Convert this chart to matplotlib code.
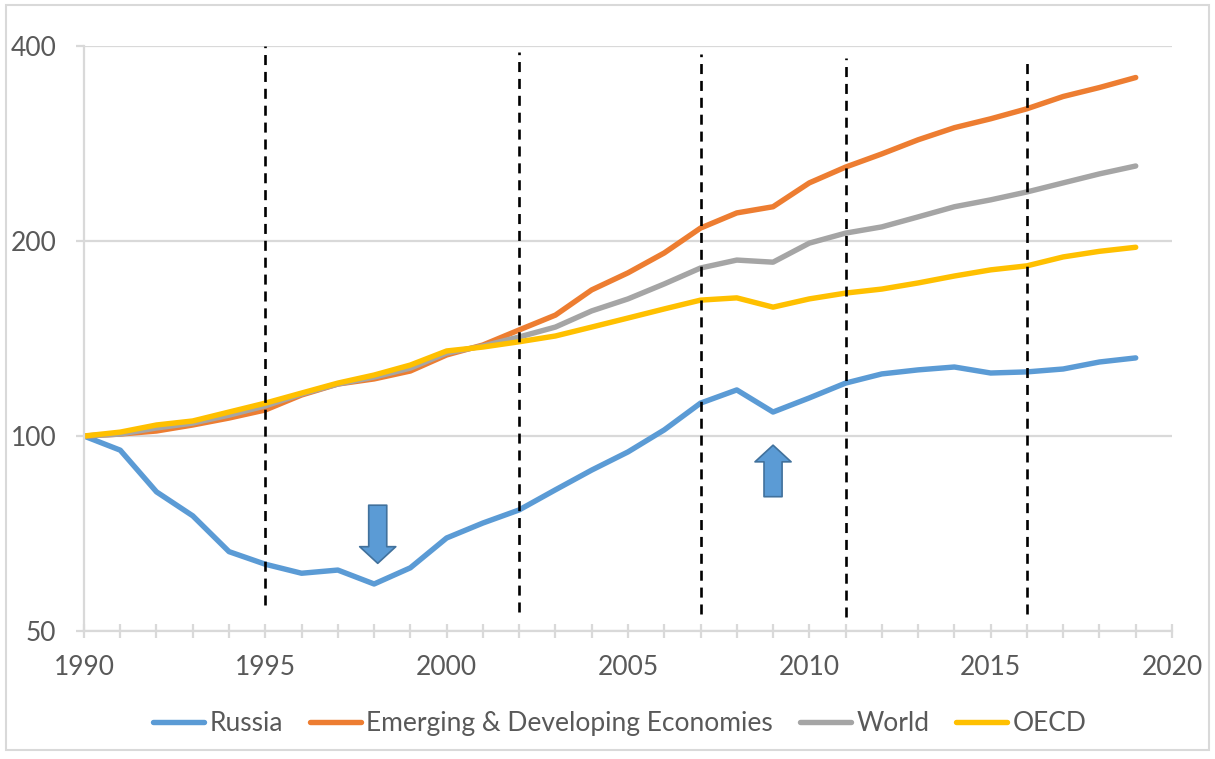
import numpy as np
import matplotlib
matplotlib.use("Agg")
import matplotlib.pyplot as plt
from matplotlib.ticker import FixedLocator, MultipleLocator, NullFormatter, NullLocator
from matplotlib.patches import Rectangle

# Index, 1990 = 100 (log scale)
years = list(range(1990, 2020))

russia = [100, 95.1, 82.0, 75.3, 66.3, 63.4, 61.4, 62.1, 59.1, 62.6,
          69.6, 73.4, 76.9, 82.6, 88.6, 94.5, 102.2, 112.4, 117.8, 108.9,
          114.5, 120.7, 124.7, 126.5, 127.8, 125.1, 125.6, 126.9, 130.1, 132.0]
emerging = [100, 100.7, 101.8, 104.0, 106.6, 109.7, 115.7, 120.3, 122.5, 126.0,
            133.4, 138.2, 145.8, 153.7, 168.1, 178.6, 191.7, 209.4, 221.0, 225.9,
            245.9, 260.1, 272.6, 286.6, 299.2, 308.8, 320.0, 334.3, 345.1, 357.6]
world = [100, 100.7, 102.9, 104.7, 107.7, 111.3, 116.1, 120.3, 123.3, 127.3,
         134.3, 137.7, 142.2, 147.3, 156.0, 162.8, 171.7, 181.7, 186.9, 185.5,
         198.5, 205.7, 210.3, 217.9, 225.9, 231.5, 238.1, 245.9, 253.9, 261.1]
oecd = [100, 101.4, 104.0, 105.5, 108.9, 112.4, 116.5, 120.7, 124.2, 128.7,
        135.3, 137.2, 139.8, 142.7, 147.3, 152.1, 157.1, 162.1, 163.4, 158.1,
        162.8, 166.2, 168.6, 172.3, 176.6, 180.5, 183.1, 189.0, 192.8, 195.6]

event_years = [1995, 2002, 2007, 2011, 2016]
event_lo = [0.044, 0.032, 0.029, 0.024, 0.029]
event_hi = [1.0, 0.99, 0.986, 0.979, 0.981]

# arrows: (x, tail, tip)
down_arrow = (1998.1, 78.2, 63.6)
up_arrow = (2009.0, 80.6, 96.8)

yticks = [50, 100, 200, 400]

plt.rcParams['font.family'] = ['Lato', 'DejaVu Sans']
grid_c = '#D9D9D9'
text_c = '#595959'

fig = plt.figure(figsize=(12.15, 7.59), dpi=100)
ax = fig.add_axes([0.0691, 0.1686, 0.8955, 0.7708])

lw = 3.9
ax.plot(years, russia, color='#5B9BD5', lw=lw, label='Russia', solid_capstyle='round')
ax.plot(years, emerging, color='#ED7D31', lw=lw, label='Emerging & Developing Economies', solid_capstyle='round')
ax.plot(years, world, color='#A5A5A5', lw=lw, label='World', solid_capstyle='round')
ax.plot(years, oecd, color='#FFC000', lw=lw, label='OECD', solid_capstyle='round')

for yr, lo, hi in zip(event_years, event_lo, event_hi):
    ax.axvline(yr, ymin=lo, ymax=hi, color='black', lw=1.9, ls=(0, (3.8, 2.6)), zorder=5)

for x, tail, tip in [down_arrow, up_arrow]:
    ax.annotate('', xy=(x, tip), xytext=(x, tail),
                arrowprops=dict(arrowstyle='simple,head_length=0.6,head_width=1.3,tail_width=0.65',
                                fc='#5B9BD5', ec='#41719C', lw=1.2,
                                mutation_scale=20, shrinkA=0, shrinkB=0),
                zorder=6)

ax.set_yscale('log')
ax.set_ylim(50, 400)
ax.set_xlim(1990, 2020)
ax.yaxis.set_major_locator(FixedLocator(yticks))
ax.yaxis.set_major_formatter(plt.FixedFormatter([str(v) for v in yticks]))
ax.yaxis.set_minor_locator(NullLocator())
ax.yaxis.set_minor_formatter(NullFormatter())
ax.xaxis.set_major_locator(MultipleLocator(5))
ax.xaxis.set_minor_locator(MultipleLocator(1))

ax.grid(axis='y', color=grid_c, lw=1.6)
ax.set_axisbelow(True)
for s in ['top', 'right']:
    ax.spines[s].set_visible(False)
for s in ['left', 'bottom']:
    ax.spines[s].set_color(grid_c)
    ax.spines[s].set_linewidth(1.6)

ax.tick_params(axis='y', which='major', length=6, width=1.6, color=grid_c,
               labelcolor=text_c, labelsize=19, pad=14)
ax.tick_params(axis='x', which='both', direction='inout', length=10, width=1.6,
               color=grid_c, labelcolor=text_c, labelsize=19, pad=12)

fig.legend(loc='center', bbox_to_anchor=(0.51, 0.047), ncol=4, frameon=False,
           fontsize=19, handlelength=1.95, handletextpad=0.2, columnspacing=1.0,
           labelcolor=text_c)

fig.patches.append(Rectangle((0.005, 0.012), 0.99, 0.981, transform=fig.transFigure,
                             fill=False, ec=grid_c, lw=1.5))

fig.savefig('out.png', dpi=100)
